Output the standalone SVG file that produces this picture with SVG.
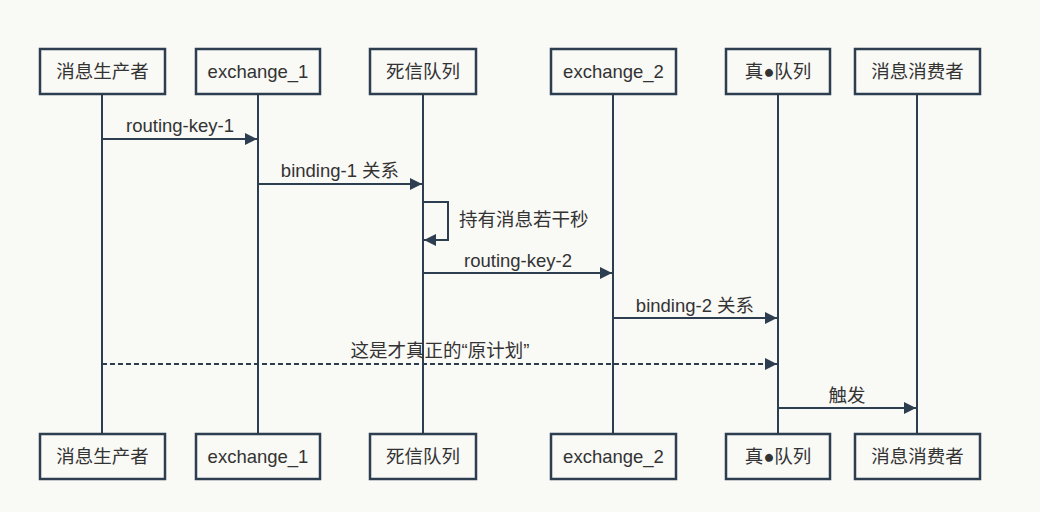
<svg xmlns="http://www.w3.org/2000/svg" width="1040" height="512" viewBox="0 0 1040 512">
<defs>
<marker id="ah" markerWidth="12" markerHeight="12" refX="12" refY="6" orient="auto" markerUnits="userSpaceOnUse">
<path d="M0,0 L12,6 L0,12 Z" fill="#2c3e50"/>
</marker>
<style>
.box{fill:#f9f9f6;stroke:#2c3e50;stroke-width:2.5}
.life{stroke:#2c3e50;stroke-width:2}
.t{font-family:"Liberation Sans","Noto Sans CJK SC",sans-serif;font-size:18.5px;fill:#333;text-anchor:middle}
.ml{font-family:"Liberation Sans","Noto Sans CJK SC",sans-serif;font-size:18.5px;fill:#333;text-anchor:middle}
.msg{stroke:#2c3e50;stroke-width:2;fill:none;marker-end:url(#ah)}
.dash{stroke-dasharray:5,3}
</style>
</defs>
<rect width="1040" height="512" fill="#f9f9f6"/>
<g id="lifelines">
<line class="life" x1="102" y1="94" x2="102" y2="434"/>
<line class="life" x1="258" y1="94" x2="258" y2="434"/>
<line class="life" x1="423" y1="94" x2="423" y2="434"/>
<line class="life" x1="613" y1="94" x2="613" y2="434"/>
<line class="life" x1="778" y1="94" x2="778" y2="434"/>
<line class="life" x1="917" y1="94" x2="917" y2="434"/>
</g>
<g id="producer">
<rect class="box" x="40" y="49" width="125" height="45"/><text class="t" x="102.5" y="78">消息生产者</text>
<rect class="box" x="40" y="434" width="125" height="45"/><text class="t" x="102.5" y="463">消息生产者</text>
</g>
<g id="exchange_1">
<rect class="box" x="196" y="49" width="124" height="45"/><text class="t" x="258" y="78">exchange_1</text>
<rect class="box" x="196" y="434" width="124" height="45"/><text class="t" x="258" y="463">exchange_1</text>
</g>
<g id="dlq">
<rect class="box" x="370" y="49" width="106" height="45"/><text class="t" x="423" y="78">死信队列</text>
<rect class="box" x="370" y="434" width="106" height="45"/><text class="t" x="423" y="463">死信队列</text>
</g>
<g id="exchange_2">
<rect class="box" x="551" y="49" width="125" height="45"/><text class="t" x="613.5" y="78">exchange_2</text>
<rect class="box" x="551" y="434" width="125" height="45"/><text class="t" x="613.5" y="463">exchange_2</text>
</g>
<g id="realq">
<rect class="box" x="726" y="49" width="104" height="45"/><text class="t" x="778" y="78">真●队列</text>
<rect class="box" x="726" y="434" width="104" height="45"/><text class="t" x="778" y="463">真●队列</text>
</g>
<g id="consumer">
<rect class="box" x="855" y="49" width="125" height="45"/><text class="t" x="917.5" y="78">消息消费者</text>
<rect class="box" x="855" y="434" width="125" height="45"/><text class="t" x="917.5" y="463">消息消费者</text>
</g>
<g id="connectors">
<line class="msg" x1="102" y1="139" x2="257" y2="139"/>
<text class="ml" x="180" y="132">routing-key-1</text>
<line class="msg" x1="258" y1="184" x2="422" y2="184"/>
<text class="ml" x="340" y="177">binding-1 关系</text>
<polyline class="msg" points="423,202 448,202 448,240 424,240"/>
<text class="ml" x="459" y="226" style="text-anchor:start">持有消息若干秒</text>
<line class="msg" x1="423" y1="273" x2="612" y2="273"/>
<text class="ml" x="518" y="267">routing-key-2</text>
<line class="msg" x1="613" y1="318" x2="777" y2="318"/>
<text class="ml" x="695" y="312">binding-2 关系</text>
<line class="msg dash" x1="102" y1="364" x2="777" y2="364"/>
<text class="ml" x="440" y="357">这是才真正的“原计划”</text>
<line class="msg" x1="778" y1="408" x2="916" y2="408"/>
<text class="ml" x="847" y="402">触发</text>
</g>
</svg>
